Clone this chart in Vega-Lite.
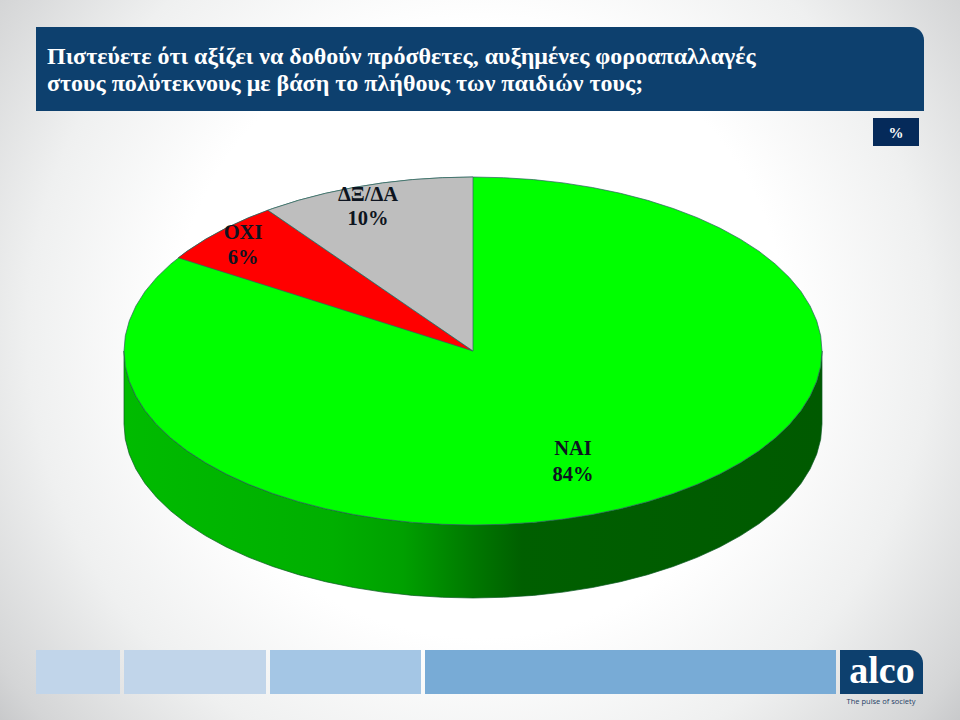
{
"$schema":"https://vega.github.io/schema/vega-lite/v6.json",
"width":960,"height":720,"padding":0,
"autosize":{"type":"fit","contains":"padding"},
"view":{"stroke":null},
"config":{"axis":{"domain":false}},
"resolve":{"scale":{"color":"independent"}},
"datasets":{
"blocks":[
{"name":"bg","x":0,"x2":960,"y":0,"y2":720}
],
"boxes":[
{"name":"percent","x":873,"x2":919,"y":118,"y2":146},
{"name":"s1","x":36,"x2":120,"y":650,"y2":694},
{"name":"s2","x":124,"x2":266,"y":650,"y2":694},
{"name":"s3","x":270,"x2":421,"y":650,"y2":694},
{"name":"s4","x":425,"x2":836,"y":650,"y2":694}
],
"rounded":[
{"name":"title","x":36,"x2":924,"y":27,"y2":111},
{"name":"logo","x":840,"x2":923,"y":650,"y2":694}
],
"rim":[
{"x":124,"top":351,"bot":424},{"x":125.3,"top":366.2,"bot":439.2},{"x":129.3,"top":381.2,"bot":454.2},{"x":135.9,"top":396,"bot":469},{"x":145,"top":410.5,"bot":483.5},{"x":156.7,"top":424.5,"bot":497.5},{"x":170.8,"top":438,"bot":511},{"x":187.1,"top":450.8,"bot":523.8},{"x":205.7,"top":462.8,"bot":535.8},{"x":226.2,"top":474,"bot":547},{"x":248.7,"top":484.3,"bot":557.3},{"x":272.8,"top":493.5,"bot":566.5},{"x":298.5,"top":501.7,"bot":574.7},{"x":325.5,"top":508.7,"bot":581.7},{"x":353.6,"top":514.5,"bot":587.5},{"x":382.7,"top":519.1,"bot":592.1},{"x":412.4,"top":522.4,"bot":595.4},{"x":442.6,"top":524.3,"bot":597.3},{"x":473,"top":525,"bot":598},
{"x":503.4,"top":524.3,"bot":597.3},{"x":533.6,"top":522.4,"bot":595.4},{"x":563.3,"top":519.1,"bot":592.1},{"x":592.4,"top":514.5,"bot":587.5},{"x":620.5,"top":508.7,"bot":581.7},{"x":647.5,"top":501.7,"bot":574.7},{"x":673.2,"top":493.5,"bot":566.5},{"x":697.3,"top":484.3,"bot":557.3},{"x":719.8,"top":474,"bot":547},{"x":740.3,"top":462.8,"bot":535.8},{"x":758.9,"top":450.8,"bot":523.8},{"x":775.2,"top":438,"bot":511},{"x":789.3,"top":424.5,"bot":497.5},{"x":801,"top":410.5,"bot":483.5},{"x":810.1,"top":396,"bot":469},{"x":816.7,"top":381.2,"bot":454.2},{"x":820.7,"top":366.2,"bot":439.2},{"x":822,"top":351,"bot":424}
],
"slices":[
{"slice":"ΝΑΙ","x":124,"top":351,"bot":351},{"slice":"ΝΑΙ","x":125.3,"top":335.8,"bot":366.2},{"slice":"ΝΑΙ","x":129.3,"top":320.8,"bot":381.2},{"slice":"ΝΑΙ","x":135.9,"top":306,"bot":396},{"slice":"ΝΑΙ","x":145,"top":291.5,"bot":410.5},{"slice":"ΝΑΙ","x":156.7,"top":277.5,"bot":424.5},{"slice":"ΝΑΙ","x":170.8,"top":264,"bot":438},{"slice":"ΝΑΙ","x":187.1,"top":251.2,"bot":450.8},{"slice":"ΝΑΙ","x":205.7,"top":239.2,"bot":462.8},{"slice":"ΝΑΙ","x":226.2,"top":228,"bot":474},{"slice":"ΝΑΙ","x":248.7,"top":217.7,"bot":484.3},{"slice":"ΝΑΙ","x":272.8,"top":208.5,"bot":493.5},{"slice":"ΝΑΙ","x":298.5,"top":200.3,"bot":501.7},{"slice":"ΝΑΙ","x":325.5,"top":193.3,"bot":508.7},{"slice":"ΝΑΙ","x":353.6,"top":187.5,"bot":514.5},{"slice":"ΝΑΙ","x":382.7,"top":182.9,"bot":519.1},{"slice":"ΝΑΙ","x":412.4,"top":179.6,"bot":522.4},{"slice":"ΝΑΙ","x":442.6,"top":177.7,"bot":524.3},{"slice":"ΝΑΙ","x":473,"top":177,"bot":525},
{"slice":"ΝΑΙ","x":503.4,"top":177.7,"bot":524.3},{"slice":"ΝΑΙ","x":533.6,"top":179.6,"bot":522.4},{"slice":"ΝΑΙ","x":563.3,"top":182.9,"bot":519.1},{"slice":"ΝΑΙ","x":592.4,"top":187.5,"bot":514.5},{"slice":"ΝΑΙ","x":620.5,"top":193.3,"bot":508.7},{"slice":"ΝΑΙ","x":647.5,"top":200.3,"bot":501.7},{"slice":"ΝΑΙ","x":673.2,"top":208.5,"bot":493.5},{"slice":"ΝΑΙ","x":697.3,"top":217.7,"bot":484.3},{"slice":"ΝΑΙ","x":719.8,"top":228,"bot":474},{"slice":"ΝΑΙ","x":740.3,"top":239.2,"bot":462.8},{"slice":"ΝΑΙ","x":758.9,"top":251.2,"bot":450.8},{"slice":"ΝΑΙ","x":775.2,"top":264,"bot":438},{"slice":"ΝΑΙ","x":789.3,"top":277.5,"bot":424.5},{"slice":"ΝΑΙ","x":801,"top":291.5,"bot":410.5},{"slice":"ΝΑΙ","x":810.1,"top":306,"bot":396},{"slice":"ΝΑΙ","x":816.7,"top":320.8,"bot":381.2},{"slice":"ΝΑΙ","x":820.7,"top":335.8,"bot":366.2},{"slice":"ΝΑΙ","x":822,"top":351,"bot":351},
{"slice":"ΟΧΙ","x":178.3,"top":257.8,"bot":257.8},{"slice":"ΟΧΙ","x":187.1,"top":251.2,"bot":260.6},{"slice":"ΟΧΙ","x":205.7,"top":239.2,"bot":266.5},{"slice":"ΟΧΙ","x":226.2,"top":228,"bot":272.9},{"slice":"ΟΧΙ","x":248.7,"top":217.7,"bot":280},{"slice":"ΟΧΙ","x":267.9,"top":210.2,"bot":286.1},{"slice":"ΟΧΙ","x":473,"top":351,"bot":351},
{"slice":"ΔΞ/ΔΑ","x":267.9,"top":210.2,"bot":210.2},{"slice":"ΔΞ/ΔΑ","x":272.8,"top":208.5,"bot":213.6},{"slice":"ΔΞ/ΔΑ","x":298.5,"top":200.3,"bot":231.2},{"slice":"ΔΞ/ΔΑ","x":325.5,"top":193.3,"bot":249.7},{"slice":"ΔΞ/ΔΑ","x":353.6,"top":187.5,"bot":269},{"slice":"ΔΞ/ΔΑ","x":382.7,"top":182.9,"bot":289},{"slice":"ΔΞ/ΔΑ","x":412.4,"top":179.6,"bot":309.4},{"slice":"ΔΞ/ΔΑ","x":442.6,"top":177.7,"bot":330.1},{"slice":"ΔΞ/ΔΑ","x":473,"top":177,"bot":351}
],
"labels":[
{"t":"ΝΑΙ","x":573,"y":449},{"t":"84%","x":573,"y":475},
{"t":"ΟΧΙ","x":243,"y":233},{"t":"6%","x":243,"y":258},
{"t":"ΔΞ/ΔΑ","x":368,"y":195},{"t":"10%","x":368,"y":219}
],
"titles":[
{"t":"Πιστεύετε ότι αξίζει να δοθούν πρόσθετες, αυξημένες φοροαπαλλαγές","x":47,"y":57},
{"t":"στους πολύτεκνους με βάση το πλήθους των παιδιών τους;","x":47,"y":84}
]
},
"encoding":{
"x":{"field":"x","type":"quantitative","axis":null,"scale":{"domain":[0,960],"nice":false,"zero":false}},
"y":{"field":"y","type":"quantitative","axis":null,"scale":{"domain":[720,0],"nice":false,"zero":false}}
},
"layer":[
{"data":{"name":"blocks"},
 "mark":{"type":"rect","color":{"gradient":"radial","x1":0.5,"y1":0.47,"r1":0,"x2":0.5,"y2":0.47,"r2":0.76,"stops":[{"offset":0,"color":"#ffffff"},{"offset":0.42,"color":"#ffffff"},{"offset":0.62,"color":"#eff0f0"},{"offset":0.8,"color":"#d4d5d6"},{"offset":1,"color":"#a2a3a7"}]}},
 "encoding":{"x2":{"field":"x2"},"y2":{"field":"y2"}}},
{"data":{"name":"boxes"},
 "mark":{"type":"rect"},
 "encoding":{"x2":{"field":"x2"},"y2":{"field":"y2"},
  "color":{"field":"name","type":"nominal","legend":null,"scale":{"domain":["percent","s1","s2","s3","s4"],"range":["#052a5a","#c1d5ea","#c1d5ea","#a4c6e5","#78abd6"]}}}},
{"data":{"name":"rounded"},
 "mark":{"type":"rect","cornerRadiusTopRight":13,"color":"#0d406e"},
 "encoding":{"x2":{"field":"x2"},"y2":{"field":"y2"}}},
{"data":{"name":"rim"},
 "mark":{"type":"area","stroke":"#0b5a22","strokeWidth":0.7,"color":{"gradient":"linear","x1":0,"y1":0,"x2":1,"y2":0,"stops":[{"offset":0,"color":"#00bb00"},{"offset":0.3,"color":"#00af00"},{"offset":0.4,"color":"#00a000"},{"offset":0.5,"color":"#007800"},{"offset":0.57,"color":"#005f00"},{"offset":1,"color":"#005a00"}]}},
 "encoding":{"y":{"field":"top","type":"quantitative","stack":null},"y2":{"field":"bot"}}},
{"data":{"name":"slices"},
 "mark":{"type":"area","stroke":"#2e5f62","strokeWidth":0.7},
 "encoding":{"y":{"field":"top","type":"quantitative","stack":null},"y2":{"field":"bot"},
  "color":{"field":"slice","type":"nominal","legend":null,"scale":{"domain":["ΝΑΙ","ΟΧΙ","ΔΞ/ΔΑ"],"range":["#00ff00","#ff0000","#bebebe"]}}}},
{"data":{"name":"labels"},
 "mark":{"type":"text","font":"Liberation Serif","fontWeight":"bold","fontSize":20.5,"color":"#0d1420","align":"center","baseline":"middle"},
 "encoding":{"text":{"field":"t"}}},
{"data":{"name":"titles"},
 "mark":{"type":"text","font":"Liberation Serif","fontWeight":"bold","fontSize":24,"color":"#ffffff","align":"left","baseline":"middle"},
 "encoding":{"text":{"field":"t"}}},
{"data":{"values":[{"t":"%","x":896,"y":133}]},
 "mark":{"type":"text","font":"Liberation Serif","fontWeight":"bold","fontSize":15,"color":"#ffffff","align":"center","baseline":"middle"},
 "encoding":{"text":{"field":"t"}}},
{"data":{"values":[{"t":"alco","x":882,"y":672}]},
 "mark":{"type":"text","font":"Liberation Serif","fontWeight":"bold","fontSize":38,"color":"#ffffff","align":"center","baseline":"middle"},
 "encoding":{"text":{"field":"t"}}},
{"data":{"values":[{"t":"The pulse of society","x":881,"y":702}]},
 "mark":{"type":"text","font":"Open Sans","fontSize":7.5,"color":"#1f3f66","align":"center","baseline":"middle"},
 "encoding":{"text":{"field":"t"}}}
]
}
